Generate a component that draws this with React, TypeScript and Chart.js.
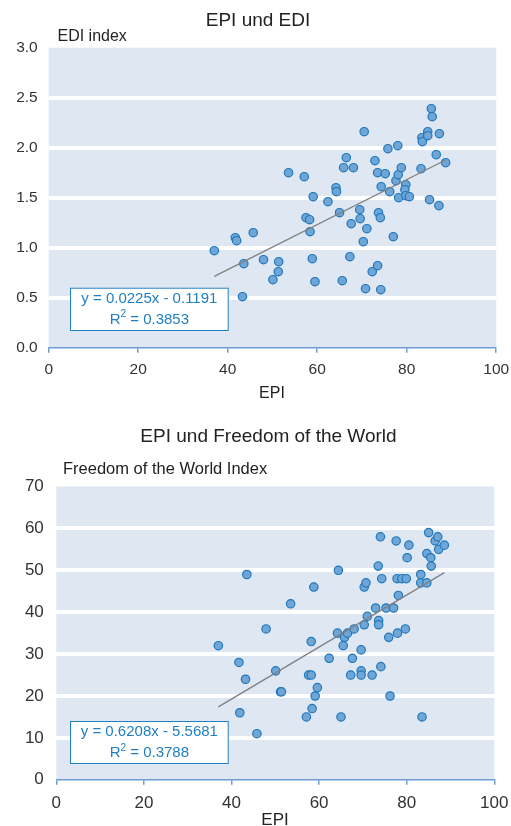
import React, { useEffect, useRef } from "react";
import { Chart, registerables } from "chart.js";

Chart.register(...registerables);

const FONT = "'Liberation Sans', Arial, Helvetica, sans-serif";

// ---------- Chart 1: EPI und EDI ----------
const titleA = "EPI und EDI";
const yTitleA = "EDI index";
const xTitleA = "EPI";
const epiA = [37.0, 41.7, 42.0, 45.7, 43.6, 43.3, 48.0, 51.4, 51.3, 50.1, 53.6, 57.1, 57.5, 58.3, 58.4, 58.9, 59.1, 59.5, 62.4, 64.2, 64.3, 65.0, 65.9, 66.5, 65.6, 67.3, 68.1, 67.6, 69.5, 69.6, 71.1, 70.3, 70.8, 70.5, 72.3, 72.9, 73.5, 73.7, 74.1, 73.5, 74.2, 74.3, 75.2, 75.8, 76.2, 77.0, 78.0, 77.6, 78.1, 78.2, 78.8, 79.8, 79.6, 79.8, 80.6, 83.2, 83.4, 83.5, 84.7, 84.7, 85.1, 85.5, 85.7, 86.6, 87.3, 87.2, 88.7];
const ediA = [0.97, 1.10, 1.07, 1.15, 0.84, 0.51, 0.88, 0.86, 0.76, 0.68, 1.75, 1.71, 1.30, 1.28, 1.16, 0.89, 1.51, 0.66, 1.46, 1.60, 1.56, 1.35, 1.80, 1.90, 0.67, 0.91, 1.80, 1.24, 1.38, 1.29, 1.19, 1.06, 0.59, 2.16, 0.76, 1.87, 1.75, 1.35, 1.30, 0.82, 0.58, 1.61, 1.74, 1.99, 1.56, 1.11, 2.02, 1.67, 1.73, 1.50, 1.80, 1.63, 1.58, 1.52, 1.51, 1.79, 2.10, 2.06, 2.16, 2.12, 1.48, 2.39, 2.31, 1.93, 2.14, 1.42, 1.85];
const slopeA = 0.0225;
const interceptA = -0.1191;
const r2A = "0.3853";
const eqA = "y = 0.0225x - 0.1191";
const yRangeA = [0, 3];
const yStepA = 0.5;

// ---------- Chart 2: EPI und Freedom of the World ----------
const titleB = "EPI und Freedom of the World";
const yTitleB = "Freedom of the World Index";
const xTitleB = "EPI";
const epiB = [37.0, 41.7, 43.2, 41.9, 45.8, 43.5, 47.9, 50.1, 51.2, 51.4, 53.5, 57.1, 57.6, 58.2, 58.2, 58.4, 58.8, 59.1, 59.6, 62.3, 64.2, 64.4, 65.0, 65.5, 65.8, 66.5, 67.2, 67.6, 68.0, 69.6, 69.6, 69.6, 70.3, 70.3, 70.7, 71.0, 72.1, 72.9, 73.6, 73.6, 73.5, 74.0, 74.1, 74.3, 75.3, 75.9, 76.2, 77.0, 77.6, 77.8, 77.9, 78.1, 78.9, 79.7, 79.9, 80.1, 80.5, 83.2, 83.2, 83.5, 84.6, 84.6, 85.0, 85.5, 85.6, 86.5, 87.1, 87.3, 88.6];
const fowB = [32, 28, 24, 16, 11, 49, 36, 26, 21, 21, 42, 15, 25, 25, 33, 17, 46, 20, 22, 29, 35, 50, 15, 32, 34, 35, 25, 29, 36, 31, 26, 25, 37, 46, 47, 39, 25, 41, 38, 37, 51, 58, 27, 48, 41, 34, 20, 41, 57, 48, 35, 44, 48, 36, 48, 53, 56, 49, 47, 15, 47, 54, 59, 53, 51, 57, 58, 55, 56];
const slopeB = 0.6208;
const interceptB = -5.5681;
const r2B = "0.3788";
const eqB = "y = 0.6208x - 5.5681";
const yRangeB = [0, 70];
const yStepB = 10;

const xRange = [0, 100];
const xStep = 20;

// ---------- styles ----------
const BAND = "#dfe7f3";
const AXIS_BLUE = "#6d9bd3";
const PT_FILL = "#6fa6d6";
const PT_BORDER = "#1f77bd";
const EQ_BLUE = "#1f7fc3";
const TEXT = "#333333";
const TITLE = "#222222";

type Spec = {
  width: number;
  height: number;
  area: { left: number; right: number; top: number; bottom: number };
  xHeight: number;
  tickFont: number;
  yPad: number;
  xPad: number;
  title: string;
  titlePos: [number, number];
  yTitle: string;
  yTitlePos: [number, number];
  yTitleFont: number;
  xTitle: string;
  xTitlePos: [number, number];
  xTitleFont: number;
  eqBox: { x: number; y: number; w: number; h: number };
  eq: string;
  r2: string;
  xs: number[];
  ys: number[];
  slope: number;
  intercept: number;
  yRange: number[];
  yStep: number;
  decimals: number;
};

function makeConfig(s: Spec): any {
  const xMin = Math.min(...s.xs);
  const xMax = Math.max(...s.xs);
  const trend = [
    { x: xMin, y: s.slope * xMin + s.intercept },
    { x: xMax, y: s.slope * xMax + s.intercept },
  ];
  const points = s.xs.map((x, i) => ({ x, y: s.ys[i] }));

  const overlay = {
    id: "overlay",
    beforeDraw(chart: any) {
      const { ctx, chartArea: a } = chart;
      ctx.save();
      ctx.fillStyle = BAND;
      ctx.fillRect(a.left, a.top, a.right - a.left, a.bottom - a.top);
      ctx.restore();
    },
    afterDraw(chart: any) {
      const { ctx } = chart;
      ctx.save();
      ctx.textBaseline = "middle";
      // main title
      ctx.fillStyle = TITLE;
      ctx.font = `19px ${FONT}`;
      ctx.textAlign = "center";
      ctx.fillText(s.title, s.titlePos[0], s.titlePos[1]);
      // y axis title
      ctx.fillStyle = TITLE;
      ctx.font = `${s.yTitleFont}px ${FONT}`;
      ctx.textAlign = "left";
      ctx.fillText(s.yTitle, s.yTitlePos[0], s.yTitlePos[1]);
      // x axis title
      ctx.font = `${s.xTitleFont}px ${FONT}`;
      ctx.textAlign = "center";
      ctx.fillText(s.xTitle, s.xTitlePos[0], s.xTitlePos[1]);
      // equation box
      const b = s.eqBox;
      ctx.fillStyle = "#ffffff";
      ctx.fillRect(b.x, b.y, b.w, b.h);
      ctx.strokeStyle = EQ_BLUE;
      ctx.lineWidth = 1;
      ctx.strokeRect(b.x + 0.5, b.y + 0.5, b.w - 1, b.h - 1);
      ctx.fillStyle = EQ_BLUE;
      ctx.font = `15px ${FONT}`;
      const cx = b.x + b.w / 2;
      ctx.textAlign = "center";
      ctx.fillText(s.eq, cx, b.y + b.h * 0.25 + 0.5);
      // R² line
      const partR = "R";
      const partRest = " = " + s.r2;
      ctx.font = `15px ${FONT}`;
      const wR = ctx.measureText(partR).width;
      const wRest = ctx.measureText(partRest).width;
      ctx.font = `10px ${FONT}`;
      const w2 = ctx.measureText("2").width;
      const total = wR + w2 + wRest;
      let x0 = cx - total / 2;
      const ly = b.y + b.h * 0.74;
      ctx.textAlign = "left";
      ctx.font = `15px ${FONT}`;
      ctx.fillText(partR, x0, ly);
      x0 += wR;
      ctx.font = `10px ${FONT}`;
      ctx.fillText("2", x0, ly - 5);
      x0 += w2;
      ctx.font = `15px ${FONT}`;
      ctx.fillText(partRest, x0, ly);
      ctx.restore();
    },
  };

  return {
    type: "scatter",
    data: {
      datasets: [
        {
          type: "line",
          data: trend,
          borderColor: "#808080",
          borderWidth: 1.3,
          pointRadius: 0,
          fill: false,
        },
        {
          type: "scatter",
          data: points,
          backgroundColor: PT_FILL,
          borderColor: PT_BORDER,
          borderWidth: 1.2,
          pointRadius: 4.2,
        },
      ],
    },
    options: {
      animation: false,
      responsive: false,
      events: [],
      layout: {
        padding: {
          top: s.area.top,
          left: 0,
          right: s.width - s.area.right,
          bottom: s.height - s.area.bottom - s.xHeight,
        },
      },
      plugins: {
        legend: { display: false },
        tooltip: { enabled: false },
        title: { display: false },
      },
      scales: {
        x: {
          type: "linear",
          min: xRange[0],
          max: xRange[1],
          afterFit: (sc: any) => {
            sc.height = s.xHeight;
            sc.paddingLeft = 0;
            sc.paddingRight = 0;
          },
          ticks: {
            stepSize: xStep,
            color: TEXT,
            padding: s.xPad,
            font: { family: FONT, size: s.tickFont },
          },
          grid: {
            drawOnChartArea: false,
            drawTicks: true,
            tickLength: 5,
            color: AXIS_BLUE,
            lineWidth: 1.5,
          },
          border: { display: true, color: AXIS_BLUE, width: 1.5 },
        },
        y: {
          type: "linear",
          min: s.yRange[0],
          max: s.yRange[1],
          afterFit: (sc: any) => {
            sc.width = s.area.left;
            sc.paddingTop = 0;
            sc.paddingBottom = 0;
          },
          ticks: {
            stepSize: s.yStep,
            color: TEXT,
            padding: s.yPad,
            font: { family: FONT, size: s.tickFont },
            callback: (v: any) => Number(v).toFixed(s.decimals),
          },
          grid: {
            drawTicks: false,
            lineWidth: 4,
            color: (c: any) =>
              c.tick && (c.tick.value === s.yRange[0] || c.tick.value === s.yRange[1])
                ? "rgba(0,0,0,0)"
                : "#ffffff",
          },
          border: { display: false },
        },
      },
    },
    plugins: [overlay],
  };
}

const specA: Spec = {
  width: 511,
  height: 410,
  area: { left: 48.7, right: 496.2, top: 47.7, bottom: 347.7 },
  xHeight: 50,
  tickFont: 15.5,
  yPad: 11,
  xPad: 7.5,
  title: titleA,
  titlePos: [258, 21],
  yTitle: yTitleA,
  yTitlePos: [57.5, 36.7],
  yTitleFont: 16,
  xTitle: xTitleA,
  xTitlePos: [272, 394],
  xTitleFont: 16,
  eqBox: { x: 70, y: 287.7, w: 158.7, h: 43.3 },
  eq: eqA,
  r2: r2A,
  xs: epiA,
  ys: ediA,
  slope: slopeA,
  intercept: interceptA,
  yRange: yRangeA,
  yStep: yStepA,
  decimals: 1,
};

const specB: Spec = {
  width: 511,
  height: 416,
  area: { left: 56.3, right: 494.3, top: 76.5, bottom: 369.8 },
  xHeight: 40,
  tickFont: 17,
  yPad: 12.5,
  xPad: 8.5,
  title: titleB,
  titlePos: [268.5, 27],
  yTitle: yTitleB,
  yTitlePos: [63, 59],
  yTitleFont: 16.5,
  xTitle: xTitleB,
  xTitlePos: [275, 410],
  xTitleFont: 17,
  eqBox: { x: 70, y: 311, w: 158.7, h: 43 },
  eq: eqB,
  r2: r2B,
  xs: epiB,
  ys: fowB,
  slope: slopeB,
  intercept: interceptB,
  yRange: yRangeB,
  yStep: yStepB,
  decimals: 0,
};

function ChartCanvas({ spec, top }: { spec: Spec; top: number }) {
  const ref = useRef<HTMLCanvasElement | null>(null);
  useEffect(() => {
    if (!ref.current) return;
    const chart = new Chart(ref.current, makeConfig(spec));
    return () => chart.destroy();
  }, [spec]);
  return (
    <canvas
      ref={ref}
      width={spec.width}
      height={spec.height}
      style={{
        position: "absolute",
        left: 0,
        top,
        width: spec.width,
        height: spec.height,
        display: "block",
      }}
    />
  );
}

export default function App() {
  return (
    <div
      style={{
        position: "absolute",
        left: 0,
        top: 0,
        width: 511,
        height: 826,
        background: "#ffffff",
        overflow: "hidden",
      }}
    >
      <ChartCanvas spec={specA} top={0} />
      <ChartCanvas spec={specB} top={410} />
    </div>
  );
}
